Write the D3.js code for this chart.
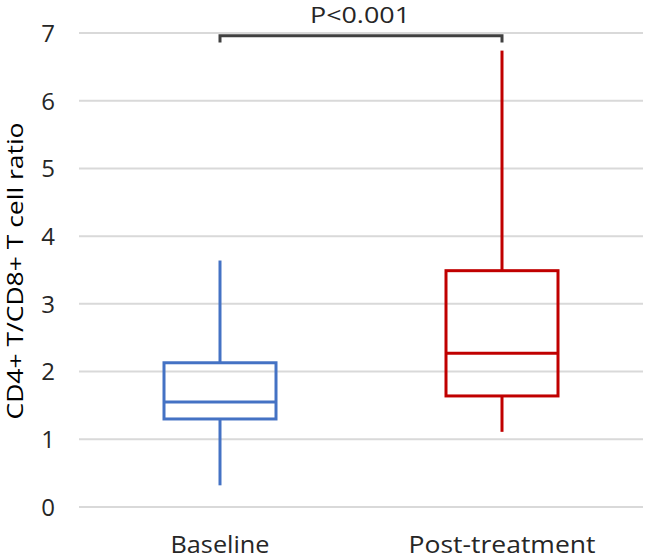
<!DOCTYPE html>
<html><head><meta charset="utf-8">
<script src="https://cdn.jsdelivr.net/npm/d3@7"></script>
<style>body{margin:0;background:#fff}text{font-family:"Open Sans",sans-serif}</style>
</head><body>
<svg id="c" width="645" height="559"></svg>
<script>
const categories = ["Baseline", "Post-treatment"];
const whiskerLow = [0.32, 1.11];
const q1 = [1.30, 1.64];
const median = [1.55, 2.27];
const q3 = [2.13, 3.49];
const whiskerHigh = [3.64, 6.74];
const colors = ["#4472C4", "#C00000"];
const yTicks = [0, 1, 2, 3, 4, 5, 6, 7];
const pLabel = "P<0.001";
const yTitle = "CD4+ T/CD8+ T cell ratio";

const svg = d3.select("#c");
const y = d3.scaleLinear().domain([0, 7]).range([507, 33]);
const x = d3.scaleBand().domain(categories).range([79, 643]);
const boxW = 112;
const cx = c => x(c) + x.bandwidth() / 2;

// gridlines
svg.append("g").selectAll("line").data(yTicks).join("line")
  .attr("x1", 79).attr("x2", 643)
  .attr("y1", d => y(d)).attr("y2", d => y(d))
  .attr("stroke", "#d9d9d9").attr("stroke-width", 2);

// y axis labels
const yAxis = d3.axisLeft(y).tickValues(yTicks).tickFormat(d3.format("d")).tickSize(0).tickPadding(0);
const ya = svg.append("g").attr("transform", "translate(55,0)").call(yAxis);
ya.select(".domain").remove();
ya.selectAll("text").attr("font-size", 24).attr("fill", "#262626")
  .attr("font-family", "'Open Sans',sans-serif").attr("dy", "0.35em");

// x axis labels
const xAxis = d3.axisBottom(x).tickSize(0).tickPadding(0);
const xa = svg.append("g").attr("transform", "translate(0,553)").call(xAxis);
xa.select(".domain").remove();
xa.selectAll("text").attr("font-size", 24).attr("fill", "#262626").attr("dy", 0)
  .attr("font-family", "'Open Sans',sans-serif")
  .attr("textLength", (d, i) => [99, 187][i]).attr("lengthAdjust", "spacingAndGlyphs");

// boxes
categories.forEach((c, i) => {
  const g = svg.append("g").attr("stroke", colors[i]).attr("stroke-width", 3).attr("fill", "none");
  const xc = cx(c);
  g.append("line").attr("x1", xc).attr("x2", xc).attr("y1", y(whiskerHigh[i])).attr("y2", y(q3[i]));
  g.append("line").attr("x1", xc).attr("x2", xc).attr("y1", y(q1[i])).attr("y2", y(whiskerLow[i]));
  g.append("rect").attr("x", xc - boxW / 2).attr("width", boxW)
    .attr("y", y(q3[i])).attr("height", y(q1[i]) - y(q3[i]));
  g.append("line").attr("x1", xc - boxW / 2).attr("x2", xc + boxW / 2).attr("y1", y(median[i])).attr("y2", y(median[i]));
});

// significance bracket
const bx1 = cx(categories[0]), bx2 = cx(categories[1]);
svg.append("path")
  .attr("d", `M${bx1},${y(6.86)}V${y(6.96)}H${bx2}V${y(6.86)}`)
  .attr("fill", "none").attr("stroke", "#404040").attr("stroke-width", 3);
svg.append("text").attr("x", (bx1 + bx2) / 2 - 1).attr("y", 23).attr("text-anchor", "middle")
  .attr("font-size", 22).attr("fill", "#262626")
  .attr("textLength", 100).attr("lengthAdjust", "spacingAndGlyphs").text(pLabel);

// y title
svg.append("text").attr("transform", "translate(23,271) rotate(-90)").attr("text-anchor", "middle")
  .attr("font-family", "'Liberation Sans',Arial,sans-serif")
  .attr("font-size", 21).attr("fill", "#000")
  .attr("textLength", 297).attr("lengthAdjust", "spacingAndGlyphs").text(yTitle);
</script>
</body></html>
